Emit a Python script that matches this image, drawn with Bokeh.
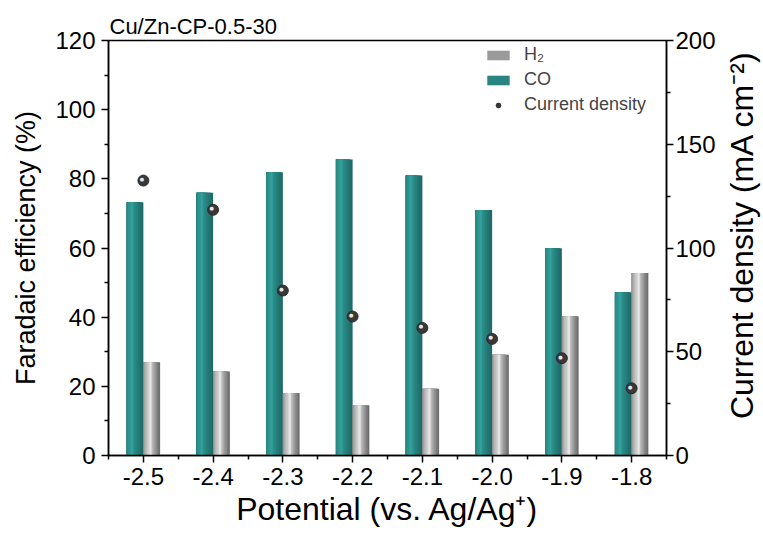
import math
from bokeh.plotting import figure
from bokeh.layouts import row
from bokeh.models import (Range1d, LinearAxis, FixedTicker, ColumnDataSource, Legend,
                          LegendItem, Label)
from bokeh.core.properties import value
from bokeh.embed import file_html
from bokeh.resources import INLINE

# ---------------- data ----------------
potentials = [-2.5, -2.4, -2.3, -2.2, -2.1, -2.0, -1.9, -1.8]
tick_labels = ["-2.5", "-2.4", "-2.3", "-2.2", "-2.1", "-2.0", "-1.9", "-1.8"]
fe_co = [73.2, 76.0, 81.9, 85.6, 81.0, 71.0, 59.9, 47.2]
fe_h2 = [27.0, 24.3, 18.1, 14.5, 19.3, 29.1, 40.3, 52.8]
current_density = [132.5, 118.4, 79.5, 67.0, 61.5, 56.2, 46.9, 32.4]
fe_ticks = [0, 20, 40, 60, 80, 100, 120]
cd_ticks = [0, 50, 100, 150, 200]
title_text = "Cu/Zn-CP-0.5-30"
right_label_text = "Current density (mA cm\u207b\u00b2)"

FONT = "Liberation Sans"
BAR_W = 0.024
N_LAYERS = 9
X_MIN, X_MAX = -2.55, -1.75
FE_MAX = 120
MAIN_W, SIDE_W, H = 720, 43, 538
TOP, BOTTOM, LEFT = 40, 83, 108


def mix(dark, light, lv):
    c = [int(round(d + (l - d) * lv)) for d, l in zip(dark, light)]
    return "#%02x%02x%02x" % tuple(c)


def layered_source(centers, tops, dark, light, peak, left_level, right_level):
    """Nested bars: each layer is lighter and narrower, approaching the highlight."""
    data = dict(left=[], right=[], top=[], bottom=[], color=[])
    lo = min(left_level, right_level)
    for c, t in zip(centers, tops):
        x0 = c - BAR_W / 2
        for k in range(N_LAYERS):
            lv = lo + (1 - lo) * k / (N_LAYERS - 1)
            if lv <= left_level:
                a = 0.0
            else:
                a = peak * ((lv - left_level) / (1 - left_level)) ** 2
            if lv <= right_level:
                b = 1.0
            else:
                b = peak + (1 - peak) * ((1 - lv) / (1 - right_level)) ** 1.3
            if k == N_LAYERS - 1:
                a, b = peak - 0.06, peak + 0.06
            data["left"].append(x0 + a * BAR_W)
            data["right"].append(x0 + b * BAR_W)
            data["top"].append(t)
            data["bottom"].append(0)
            data["color"].append(mix(dark, light, lv))
    return ColumnDataSource(data)


p = figure(width=MAIN_W, height=H,
           x_range=Range1d(X_MIN, X_MAX), y_range=Range1d(0, FE_MAX),
           output_backend="svg", toolbar_location=None,
           min_border_left=LEFT, min_border_right=MAIN_W - 666,
           min_border_top=TOP, min_border_bottom=BOTTOM,
           title=title_text)
p.extra_y_ranges = {"cd": Range1d(0, 200)}
p.xgrid.visible = False
p.ygrid.visible = False
p.outline_line_color = "black"
p.outline_line_width = 1.5
p.background_fill_color = "white"
p.border_fill_color = "white"

p.title.text_font = FONT
p.title.text_font_size = "22px"
p.title.text_font_style = "normal"
p.title.text_color = "black"
p.title.align = "left"
p.title.offset = 1
p.title.standoff = 4

# bars
co_centers = [x - BAR_W / 2 for x in potentials]
h2_centers = [x + BAR_W / 2 for x in potentials]
src_co = layered_source(co_centers, fe_co, (22, 84, 82), (50, 160, 155), 0.32, 0.6, 0.3)
src_h2 = layered_source(h2_centers, fe_h2, (80, 80, 80), (228, 228, 228), 0.42, 0.35, 0.2)

r_co = p.quad(left="left", right="right", top="top", bottom="bottom", source=src_co,
              fill_color="color", line_color=None)
r_h2 = p.quad(left="left", right="right", top="top", bottom="bottom", source=src_h2,
              fill_color="color", line_color=None)

# current density spheres
src_cd = ColumnDataSource(dict(x=potentials, y=current_density, hl=["\u25cf"] * len(potentials)))
r_cd = p.scatter(x="x", y="y", source=src_cd, y_range_name="cd", size=11,
                 fill_color="#383838", line_color="#202020", line_width=0.8)
p.text(x="x", y="y", text="hl", source=src_cd, y_range_name="cd",
       text_font=value("DejaVu Sans"), text_font_size="5px", text_color="#e8e8e8",
       text_align="center", text_baseline="middle", x_offset=-1.5, y_offset=-1.5)

# axes
def style_axis(ax):
    ax.axis_line_color = "black"
    ax.axis_line_width = 1.5
    ax.major_tick_line_color = "black"
    ax.major_tick_line_width = 1.5
    ax.minor_tick_line_color = "black"
    ax.minor_tick_line_width = 1.5
    ax.major_tick_in = 0
    ax.major_tick_out = 7
    ax.minor_tick_in = 0
    ax.minor_tick_out = 4
    ax.major_label_text_font = FONT
    ax.major_label_text_font_size = "24px"
    ax.major_label_text_color = "black"
    ax.axis_label_text_font = FONT
    ax.axis_label_text_font_style = "normal"
    ax.axis_label_text_color = "black"


xa = p.xaxis[0]
minor_x = [x - 0.05 for x in potentials] + [potentials[-1] + 0.05]
xa.ticker = FixedTicker(ticks=potentials, minor_ticks=minor_x)
xa.major_label_overrides = dict(zip(potentials, tick_labels))
xa.axis_label = "Potential (vs. Ag/Ag\u207a)"
style_axis(xa)
xa.axis_label_text_font_size = "32px"
xa.major_label_standoff = 5
xa.axis_label_standoff = 3

ya = p.yaxis[0]
ya.ticker = FixedTicker(ticks=fe_ticks, minor_ticks=[t + 10 for t in fe_ticks[:-1]])
ya.axis_label = "Faradaic efficiency (%)"
style_axis(ya)
ya.axis_label_text_font_size = "27px"
ya.major_label_standoff = 6
ya.axis_label_standoff = 11

ra = LinearAxis(y_range_name="cd",
                ticker=FixedTicker(ticks=cd_ticks, minor_ticks=[t + 25 for t in cd_ticks[:-1]]))
style_axis(ra)
ra.major_label_standoff = 2
p.add_layout(ra, "right")

# legend
legend = Legend(items=[
    LegendItem(label="H\u2082", renderers=[r_h2], index=3),
    LegendItem(label="CO", renderers=[r_co], index=4),
    LegendItem(label="Current density", renderers=[r_cd]),
], location=(376, 340))
legend.border_line_color = None
legend.background_fill_alpha = 0
legend.padding = 0
legend.margin = 0
legend.spacing = 4
legend.glyph_width = 28
legend.glyph_height = 12
legend.label_height = 20
legend.label_standoff = 12
legend.label_text_font = FONT
legend.label_text_font_size = "18px"
p.add_layout(legend)

# side strip carrying the right-axis title (reads bottom-to-top)
side = figure(width=SIDE_W, height=H, x_range=Range1d(0, SIDE_W), y_range=Range1d(0, H),
              output_backend="svg", toolbar_location=None,
              min_border=0, min_border_left=0, min_border_right=0,
              min_border_top=0, min_border_bottom=0)
side.axis.visible = False
side.grid.visible = False
side.outline_line_color = None
side.background_fill_color = "white"
side.border_fill_color = "white"
side.add_layout(Label(x=741 - MAIN_W, y=H - 252, text=right_label_text,
                      angle=math.pi / 2, text_align="center", text_baseline="middle",
                      text_font=FONT, text_font_size="32px", text_color="black"))

layout = row(p, side, spacing=0)
open("out.html", "w").write(file_html(layout, INLINE))
